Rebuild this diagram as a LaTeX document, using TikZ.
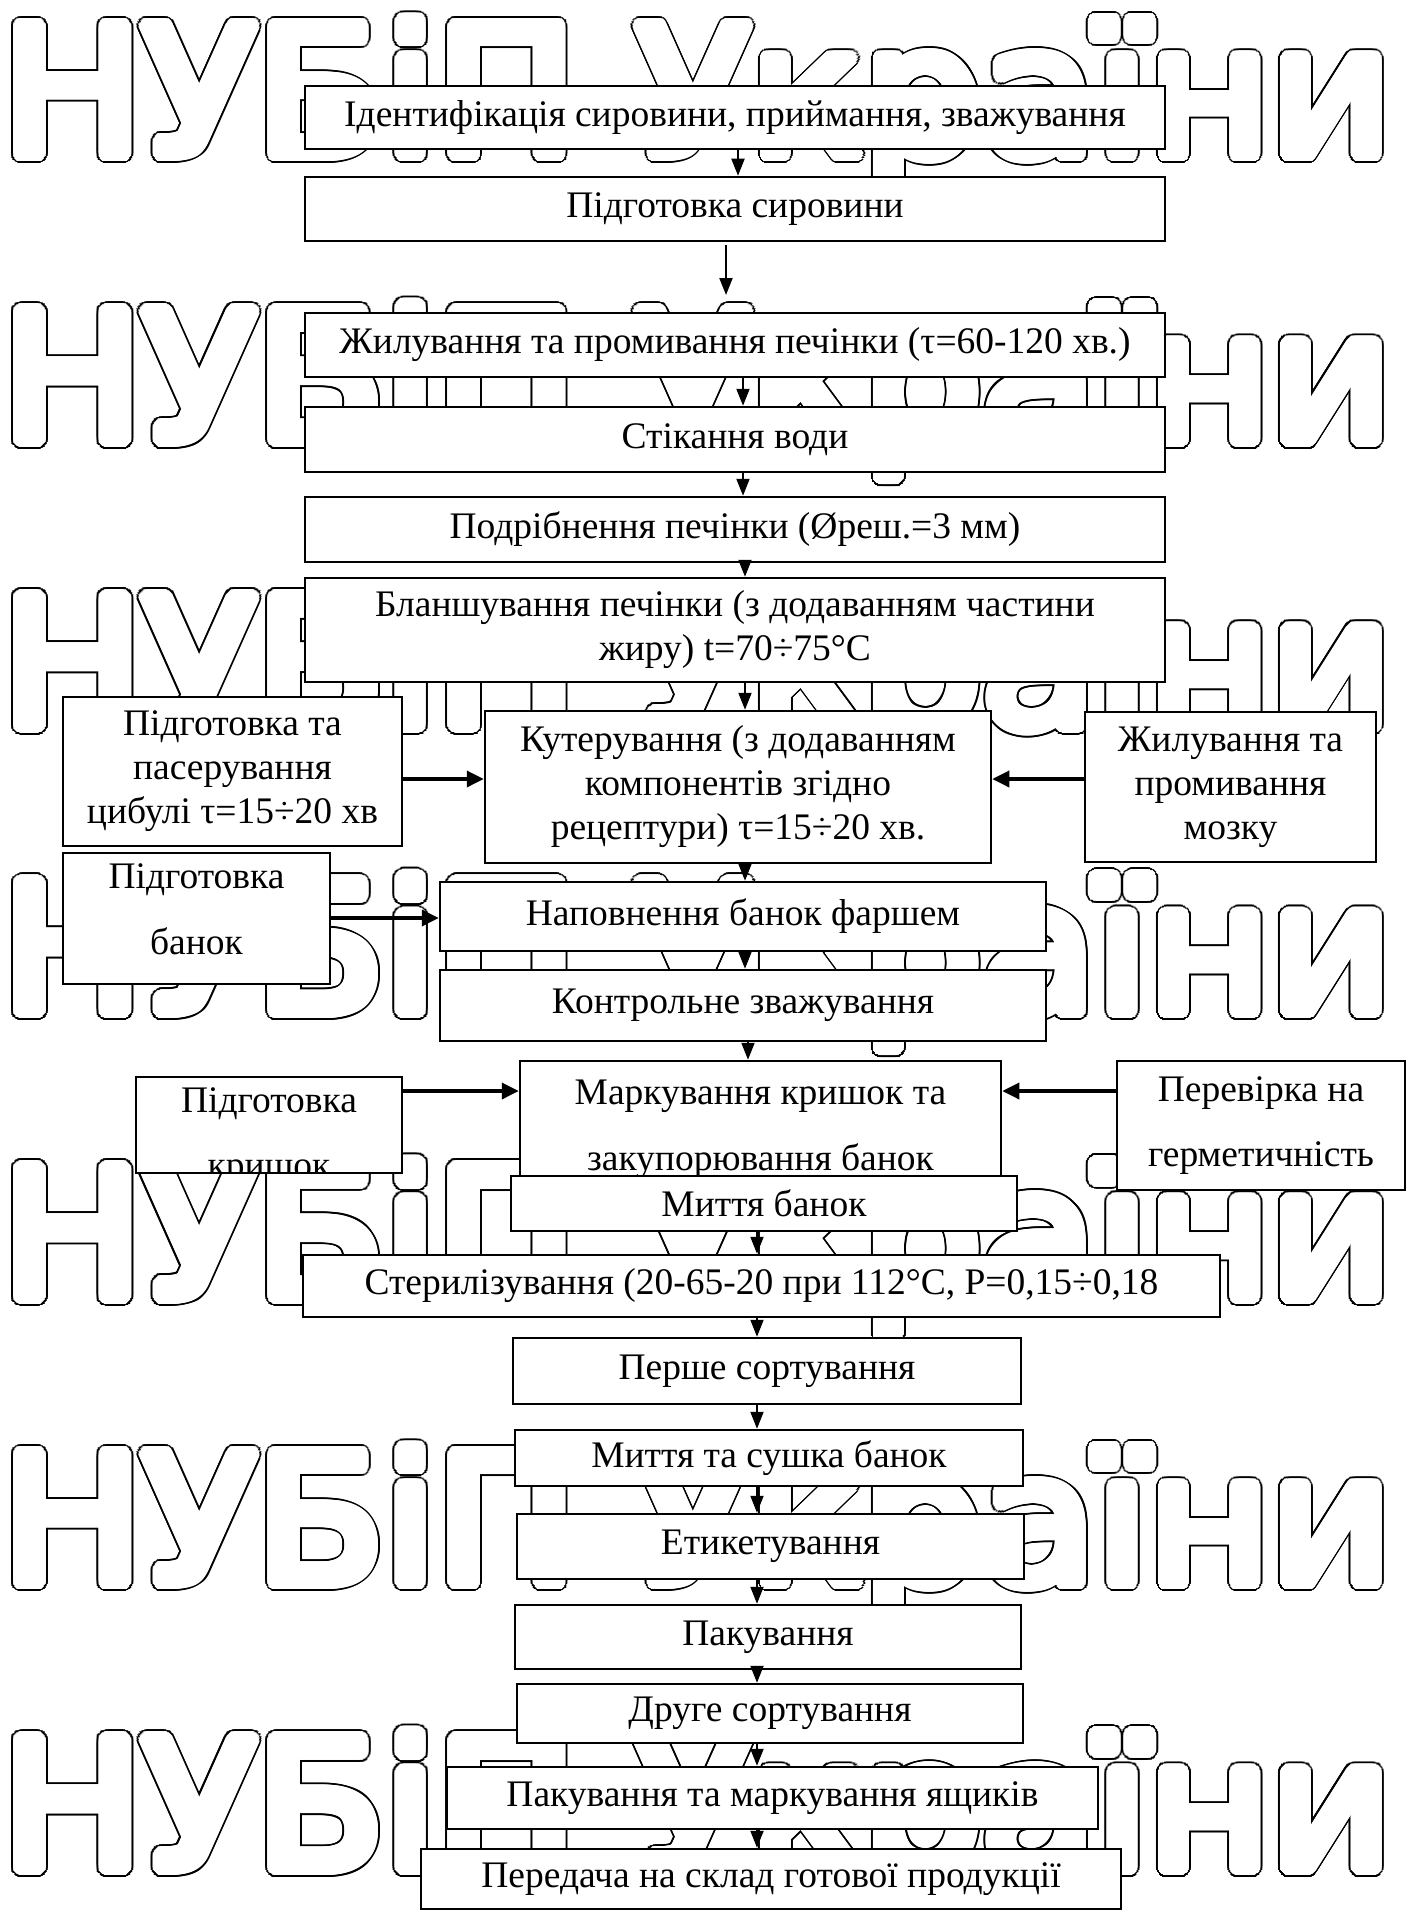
\documentclass[tikz,border=0pt]{standalone}
\usepackage{fontspec}
\setmainfont{Liberation Serif}
\newfontfamily\wmfamily{DejaVu Sans}
\usetikzlibrary{arrows.meta}
\newcommand\fsn{\fontsize{37.5}{44}\selectfont}
\newcommand\fsw{\fontsize{37.5}{65.5}\selectfont}
\newcommand\wmtxt{НУБіП України}
\begin{document}
\begin{tikzpicture}[x=1pt,y=-1pt,
  box/.style={draw, line width=2.5pt, fill=white, inner sep=0pt, align=center, font=\fsn},
  wbox/.style={box, font=\fsw},
  wm/.style={anchor=base west, inner sep=0pt, xscale=1.05, font={\wmfamily\fontsize{178}{178}\selectfont}},
  arr/.style={line width=2pt, -{Triangle[length=17pt,width=13pt]}},
  tarr/.style={line width=3.5pt, -{Triangle[length=17pt,width=16pt]}}]
\useasboundingbox (0,0) rectangle (1410,1910);
\fill[white] (0,0) rectangle (1410,1910);
% watermark
\def\wmx{2}
\foreach \yy [count=\r] in {155,440.6,726.2,1011.8,1297.4,1583,1868.6} {
  \foreach \a in {0,12,...,348} {
    \node[wm,text=black] (wmk\r-\a) at ({\wmx+9*cos(\a)},{\yy+9*sin(\a)}) {\wmtxt};
  }
  \foreach \a in {0,12,...,348} {
    \node[wm,text=white] (wmw\r-\a) at ({\wmx+7*cos(\a)},{\yy+7*sin(\a)}) {\wmtxt};
  }
  \node[wm,text=white] (wm\r) at (\wmx,\yy) {\wmtxt};
}
% boxes
\node[box, minimum width=860pt, minimum height=63pt] (b1) at (735,117.5) {Ідентифікація сировини, приймання, зважування};
\node[box, minimum width=860pt, minimum height=64pt] (b2) at (735,209) {Підготовка сировини};
\node[box, minimum width=860pt, minimum height=64pt] (b3) at (735,345) {Жилування та промивання печінки (τ=60-120 хв.)};
\node[box, minimum width=860pt, minimum height=65pt] (b4) at (735,439.5) {Стікання води};
\node[box, minimum width=860pt, minimum height=65pt] (b5) at (735,529.5) {Подрібнення печінки (Øреш.=3 мм)};
\node[box, minimum width=860pt, minimum height=104pt] (b6) at (735,630) {Бланшування печінки (з додаванням частини\\жиру) t=70÷75°C};
\node[box, minimum width=506pt, minimum height=152pt] (b7) at (738,787) {Кутерування (з додаванням\\компонентів згідно\\рецептури) τ=15÷20 хв.};
\node[box, minimum width=339pt, minimum height=149pt] (bL1) at (232.5,771.5) {Підготовка та\\пасерування\\цибулі τ=15÷20 хв};
\node[box, minimum width=291pt, minimum height=150pt] (bR1) at (1230.5,787) {Жилування та\\промивання\\мозку};
\node[box, minimum width=267pt, minimum height=131pt,
  path picture={\node[font=\fsw, align=center, inner sep=0pt] (bL2t) at ([yshift=9pt]path picture bounding box.center) {Підготовка\\банок};}] (bL2) at (196.5,918.5) {};
\node[box, minimum width=606pt, minimum height=69pt] (b8) at (743,916.5) {Наповнення банок фаршем};
\node[box, minimum width=606pt, minimum height=71pt] (b9) at (743,1005.5) {Контрольне зважування};
\node[wbox, minimum width=481pt, minimum height=137pt] (b10) at (760.5,1129.5) {Маркування кришок та\\закупорювання банок};
\node[box, minimum width=266pt, minimum height=96pt,
  path picture={\node[font=\fsw, align=center, inner sep=0pt, anchor=north] (bL3t) at ([yshift=-9pt]path picture bounding box.north) {Підготовка\\кришок};}] (bL3) at (269,1125) {};
\node[wbox, minimum width=288pt, minimum height=129pt] (bR3) at (1261,1125.5) {Перевірка на\\герметичність};
\node[box, minimum width=506pt, minimum height=55pt] (b11) at (764,1203.5) {Миття банок};
\node[box, minimum width=917pt, minimum height=62pt] (b12) at (761.5,1286) {Стерилізування (20-65-20 при 112°C, P=0,15÷0,18};
\node[box, minimum width=508pt, minimum height=66pt] (b13) at (767,1371) {Перше сортування};
\node[box, minimum width=508pt, minimum height=56pt] (b14) at (769,1458) {Миття та сушка банок};
\node[box, minimum width=507pt, minimum height=65pt] (b15) at (770.5,1546.5) {Етикетування};
\node[box, minimum width=506pt, minimum height=64pt] (b16) at (768,1637) {Пакування};
\node[box, minimum width=506pt, minimum height=59pt] (b17) at (770,1713.5) {Друге сортування};
\node[box, minimum width=651pt, minimum height=62pt] (b18) at (772.5,1798) {Пакування та маркування ящиків};
\node[box, minimum width=700pt, minimum height=60pt] (b19) at (771,1879) {Передача на склад готової продукції};
% connector guides
\coordinate (xA) at (738,0);
\coordinate (xB) at (743,0);
\coordinate (xC) at (745,0);
\coordinate (xD) at (748,0);
\coordinate (xE) at (757,0);
\coordinate (yK) at (0,779);
\coordinate (yN) at (0,918);
\coordinate (yM) at (0,1091);
\coordinate (a2s) at (726,245);
\coordinate (a2e) at (726,295);
% connectors
\draw[arr] (b1.south -| xA) -- (b2.north -| xA);
\draw[arr] (a2s) -- (a2e);
\draw[arr] (b3.south -| xB) -- (b4.north -| xB);
\draw[arr] (b4.south -| xB) -- (b5.north -| xB);
\draw[arr] (b5.south -| xC) -- (b6.north -| xC);
\draw[arr] (b6.south -| xC) -- (b7.north -| xC);
\draw[tarr] (bL1.east |- yK) -- (b7.west |- yK);
\draw[tarr] (bR1.west |- yK) -- (b7.east |- yK);
\draw[arr] (b7.south -| xC) -- (b8.north -| xC);
\draw[tarr] (bL2.east |- yN) -- (b8.west |- yN);
\draw[arr] (b8.south -| xC) -- (b9.north -| xC);
\draw[arr] (b9.south -| xD) -- (b10.north -| xD);
\draw[tarr] (bL3.east |- yM) -- (b10.west |- yM);
\draw[tarr] (bR3.west |- yM) -- (b10.east |- yM);
\draw[arr] (b11.south -| xE) -- (b12.north -| xE);
\draw[arr] (b12.south -| xE) -- (b13.north -| xE);
\draw[arr] (b13.south -| xE) -- (b14.north -| xE);
\draw[arr] (b14.south -| xE) -- (b15.north -| xE);
\draw[arr] (b15.south -| xE) -- (b16.north -| xE);
\draw[arr] (b16.south -| xE) -- (b17.north -| xE);
\draw[arr] (b17.south -| xE) -- (b18.north -| xE);
\draw[arr] (b18.south -| xE) -- (b19.north -| xE);
\end{tikzpicture}
\end{document}
